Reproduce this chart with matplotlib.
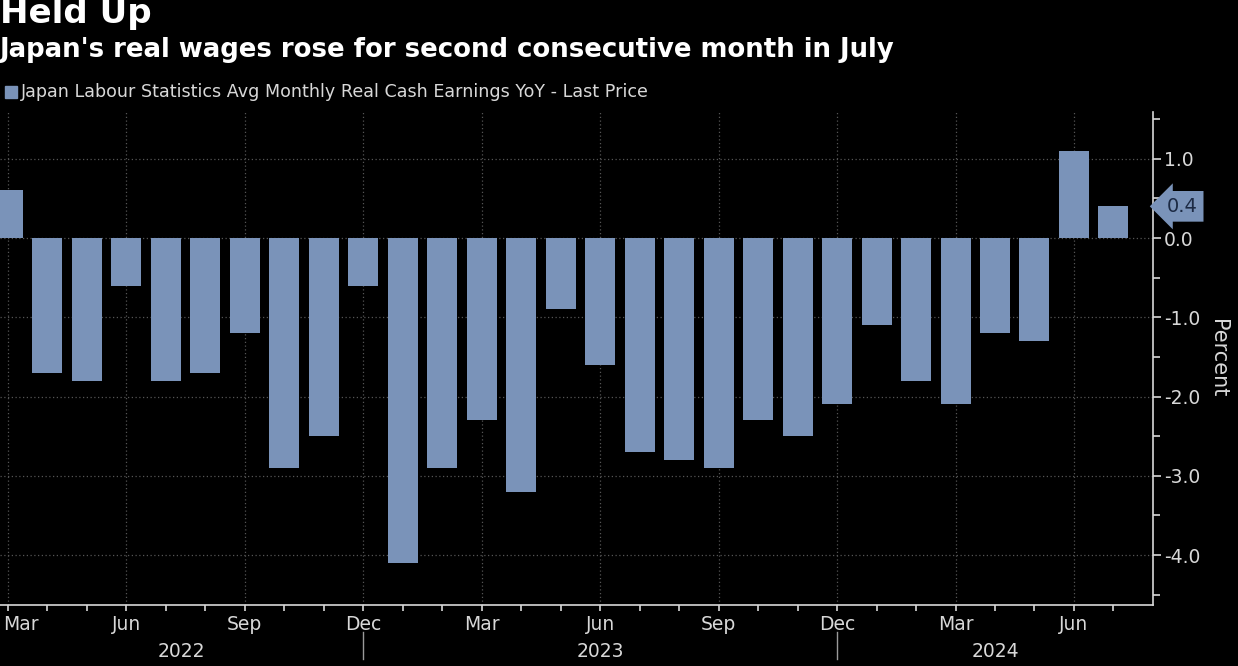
import numpy as np
import pandas as pd
import matplotlib
matplotlib.use("Agg")
import matplotlib.pyplot as plt
import matplotlib.transforms as mtransforms
from matplotlib.ticker import FixedLocator, MultipleLocator

# Données (mars 2022 -> juillet 2024)
mois = pd.date_range("2022-03-01", periods=29, freq="MS")
valeurs = [0.6, -1.7, -1.8, -0.6, -1.8, -1.7, -1.2, -2.9, -2.5, -0.6,
           -4.1, -2.9, -2.3, -3.2, -0.9, -1.6, -2.7, -2.8, -2.9, -2.3,
           -2.5, -2.1, -1.1, -1.8, -2.1, -1.2, -1.3, 1.1, 0.4]
legende = "Japan Labour Statistics Avg Monthly Real Cash Earnings YoY - Last Price"
titre = "Held Up"
sous_titre = "Japan's real wages rose for second consecutive month in July"

couleur_barre = "#7a93b9"
texte_clair = "#d8d8d8"

fig = plt.figure(figsize=(12.38, 6.66), dpi=100, facecolor="black")
ax = fig.add_axes([0.0, 0.0916, 0.9313, 0.7402], facecolor="black")

x = np.arange(len(valeurs))
ax.bar(x, valeurs, width=0.76, color=couleur_barre, zorder=3)

ax.set_xlim(-0.2, 29.0)
ax.set_ylim(-4.63, 1.59)

# axes et graduations
for cote in ["top", "left"]:
    ax.spines[cote].set_visible(False)
for cote in ["bottom", "right"]:
    ax.spines[cote].set_color(texte_clair)
    ax.spines[cote].set_linewidth(1.2)

ax.yaxis.tick_right()
ax.yaxis.set_label_position("right")
ax.yaxis.set_major_locator(MultipleLocator(1.0))
ax.yaxis.set_minor_locator(MultipleLocator(0.5))
ax.yaxis.set_major_formatter(lambda v, p: f"{v:.1f}")
ax.tick_params(axis="y", which="both", colors=texte_clair, labelsize=13.5,
               direction="out", length=6, width=1.2, pad=2)
ax.tick_params(axis="y", which="minor", length=5)
ax.set_ylabel("Percent", color=texte_clair, fontsize=15, rotation=270, labelpad=20)

trim = [i for i, m in enumerate(mois) if m.month in (3, 6, 9, 12)]
ax.xaxis.set_major_locator(FixedLocator(trim))
ax.set_xticklabels([mois[i].strftime("%b") for i in trim])
ax.xaxis.set_minor_locator(FixedLocator(x))
ax.tick_params(axis="x", which="both", colors=texte_clair, labelsize=13.5,
               direction="out", length=4, width=1.2, pad=3)
premier = ax.get_xticklabels()[0]
premier.set_ha("left")
premier.set_transform(premier.get_transform() +
                      mtransforms.ScaledTranslation(-0.05, 0, fig.dpi_scale_trans))

ax.grid(True, which="major", color="#555555", linestyle=(0, (1, 2)), linewidth=0.9, zorder=0)

# années sous l'axe
dec = [i for i, m in enumerate(mois) if m.month == 12]
bornes = [ax.get_xlim()[0]] + dec + [ax.get_xlim()[1]]
annees = sorted(set(m.year for m in mois))
trans = mtransforms.blended_transform_factory(ax.transData, ax.transAxes)
for i, an in enumerate(annees):
    ax.text((bornes[i] + bornes[i + 1]) / 2, -0.095, str(an), transform=trans,
            ha="center", va="center", color=texte_clair, fontsize=13.5)
for d in dec:
    ax.plot([d, d], [-0.055, -0.11], transform=trans, color="#9a9a9a",
            linewidth=1, clip_on=False)

# étiquette de la dernière valeur
trans_y = mtransforms.blended_transform_factory(ax.transAxes, ax.transData)
ax.text(1.012, valeurs[-1], f"{valeurs[-1]:.1f}", transform=trans_y, ha="left",
        va="center", color="#1c2a44", fontsize=14,
        bbox=dict(boxstyle="larrow,pad=0.3", fc=couleur_barre, ec="none"))

# titres et légende
fig.text(0.0, 1.004, titre, ha="left", va="top", color="white",
         fontsize=24.5, fontweight="bold")
fig.text(0.0, 0.945, sous_titre, ha="left", va="top", color="white",
         fontsize=18.7, fontweight="bold")
fig.patches.append(plt.Rectangle((0.004, 0.853), 0.0095, 0.018, color=couleur_barre,
                                 transform=fig.transFigure, figure=fig))
fig.text(0.017, 0.862, legende, ha="left", va="center", color=texte_clair, fontsize=12.6)
fig.text(0.877, -0.008, "Bloomberg", ha="left", va="top", color="white",
         fontsize=16, fontweight="bold")

fig.savefig("out.png", dpi=100, facecolor="black")
